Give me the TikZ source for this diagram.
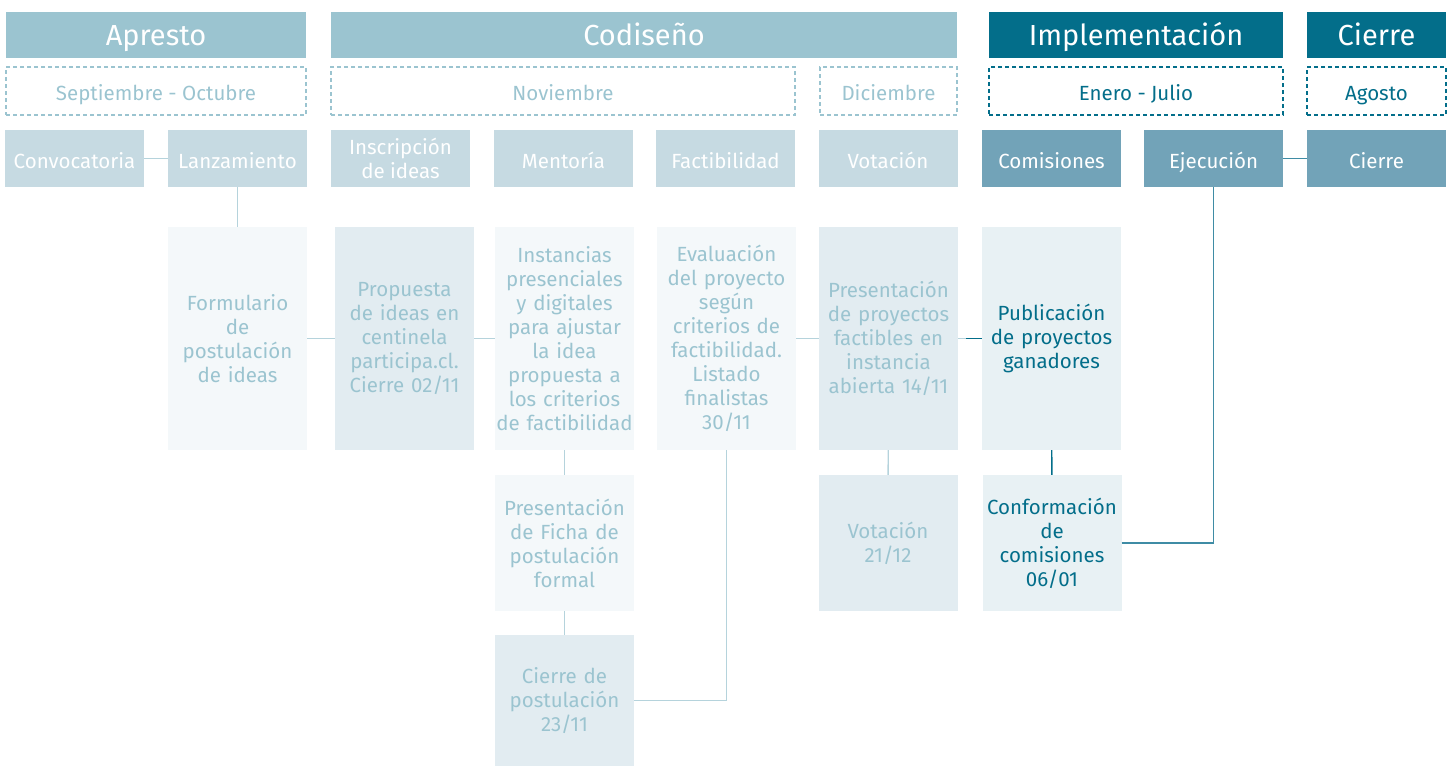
\documentclass[tikz,border=0pt]{standalone}
\usepackage{fontspec}
\setmainfont{Fira Sans}
\usetikzlibrary{positioning}

\definecolor{tealLight}{HTML}{9BC4D0}
\definecolor{tealDark}{HTML}{036E8A}
\definecolor{stageLight}{HTML}{C6DAE2}
\definecolor{stageDark}{HTML}{72A3B8}
\definecolor{paleA}{HTML}{F4F8FA}
\definecolor{paleB}{HTML}{E2ECF1}
\definecolor{paleC}{HTML}{E8F1F4}
\definecolor{lineLight}{HTML}{B5D3DC}
\definecolor{lineMid}{HTML}{3F8CA5}

\tikzset{
  phase/.style={rectangle, minimum height=46pt, inner sep=0pt, text height=26pt, text depth=6pt, text=white, font=\fontsize{29}{32}\selectfont},
  month/.style={rectangle, draw, line width=1.2pt, dash pattern=on 4pt off 3pt, minimum height=48pt, inner sep=0pt, text height=23pt, text depth=5pt, font=\fontsize{20.5}{24}\selectfont},
  stage/.style={rectangle, minimum width=139pt, minimum height=57pt, inner sep=0pt, text=white, align=center, font=\fontsize{20.5}{24}\selectfont},
  oneline/.style={text height=24pt, text depth=5pt},
  detail/.style={rectangle, minimum width=139pt, text width=137pt, inner sep=0pt, align=center, font=\fontsize{20.5}{24}\selectfont},
  link/.style={lineLight, line width=1.4pt},
}

\begin{document}
\begin{tikzpicture}[x=1pt, y=-1pt]
    \useasboundingbox (0,0) rectangle (1452,766);

    % phases
    \node (apresto) [phase, fill=tealLight, minimum width=300pt] at (156,35) {Apresto};
    \node (codiseno) [phase, fill=tealLight, minimum width=626pt] at (644,35) {Codiseño};
    \node (impl) [phase, fill=tealDark, minimum width=294pt] at (1136,35) {Implementación};
    \node (cierreFase) [phase, fill=tealDark, minimum width=139pt] at (1376.5,35) {Cierre};

    % months
    \node (sepoct) [month, draw=tealLight, text=tealLight, minimum width=300pt] at (156,91) {Septiembre - Octubre};
    \node (nov) [month, draw=tealLight, text=tealLight, minimum width=464pt] at (563,91) {Noviembre};
    \node (dic) [month, draw=tealLight, text=tealLight, minimum width=137pt] at (888.5,91) {Diciembre};
    \node (enejul) [month, draw=tealDark, text=tealDark, minimum width=294pt] at (1136,91) {Enero - Julio};
    \node (ago) [month, draw=tealDark, text=tealDark, minimum width=139pt] at (1376.5,91) {Agosto};

    % stages
    \node (convoc) [stage, oneline, fill=stageLight] at (74.5,158.5) {Convocatoria};
    \node (lanz) [stage, oneline, fill=stageLight] at (237.5,158.5) {Lanzamiento};
    \node (inscr) [stage, fill=stageLight] at (400.5,158.5) {Inscripción\\de ideas};
    \node (mentor) [stage, oneline, fill=stageLight] at (563.5,158.5) {Mentoría};
    \node (factib) [stage, oneline, fill=stageLight] at (725.5,158.5) {Factibilidad};
    \node (votac) [stage, oneline, fill=stageLight] at (888,158.5) {Votación};
    \node (comis) [stage, oneline, fill=stageDark] at (1051.5,158.5) {Comisiones};
    \node (ejec) [stage, oneline, fill=stageDark] at (1213.5,158.5) {Ejecución};
    \node (cierreEtapa) [stage, oneline, fill=stageDark] at (1376.5,158.5) {Cierre};

    % details
    \node (form) [detail, fill=paleA, text=tealLight, minimum height=223pt] at (237.5,338.5) {Formulario\\de\\postulación\\de ideas};
    \node (prop) [detail, fill=paleB, text=tealLight, minimum height=223pt] at (404.5,338.5) {Propuesta\\de ideas en\\centinela\\participa.cl.\\Cierre 02/11};
    \node (inst) [detail, fill=paleA, text=tealLight, minimum height=223pt] at (564.5,338.5) {Instancias\\presenciales\\y digitales\\para ajustar\\la idea\\propuesta a\\los criterios\\de factibilidad};
    \node (eval) [detail, fill=paleA, text=tealLight, minimum height=223pt] at (726.5,338.5) {Evaluación\\del proyecto\\según\\criterios de\\factibilidad.\\Listado\\finalistas\\30/11};
    \node (presProy) [detail, fill=paleB, text=tealLight, minimum height=223pt] at (888.5,338.5) {Presentación\\de proyectos\\factibles en\\instancia\\abierta 14/11};
    \node (publ) [detail, fill=paleC, text=tealDark, minimum height=223pt] at (1051.5,338.5) {Publicación\\de proyectos\\ganadores};

    \node (ficha) [detail, fill=paleA, text=tealLight, minimum height=136pt] at (564.5,543) {Presentación\\de Ficha de\\postulación\\formal};
    \node (vot2) [detail, fill=paleB, text=tealLight, minimum height=136pt] at (888,543) {Votación\\21/12};
    \node (conf) [detail, fill=paleC, text=tealDark, minimum height=136pt] at (1052,543) {Conformación\\de\\comisiones\\06/01};

    \node (cierrePost) [detail, fill=paleB, text=tealLight, minimum height=131pt] at (564.5,700.5) {Cierre de\\postulación\\23/11};

    \coordinate (junction) at (966,338.5);

    % connectors
    \draw [link] (convoc) -- (lanz);
    \draw [link] (lanz) -- (form);
    \draw [link] (form) -- (prop);
    \draw [link] (prop) -- (inst);
    \draw [link] (inst) -- (ficha);
    \draw [link] (ficha) -- (cierrePost);
    \draw [link] (cierrePost.east) -| (eval.south);
    \draw [link] (eval) -- (presProy);
    \draw [link] (presProy) -- (junction);
    \draw [tealDark, line width=1.4pt] (junction) -- (publ);
    \draw [link] (presProy) -- (vot2);
    \draw [tealDark, line width=1.4pt] (publ) -- (conf);
    \draw [lineMid, line width=1.4pt] (conf.east) -| (ejec.south);
    \draw [lineMid, line width=1.4pt] (ejec) -- (cierreEtapa);
\end{tikzpicture}
\end{document}
